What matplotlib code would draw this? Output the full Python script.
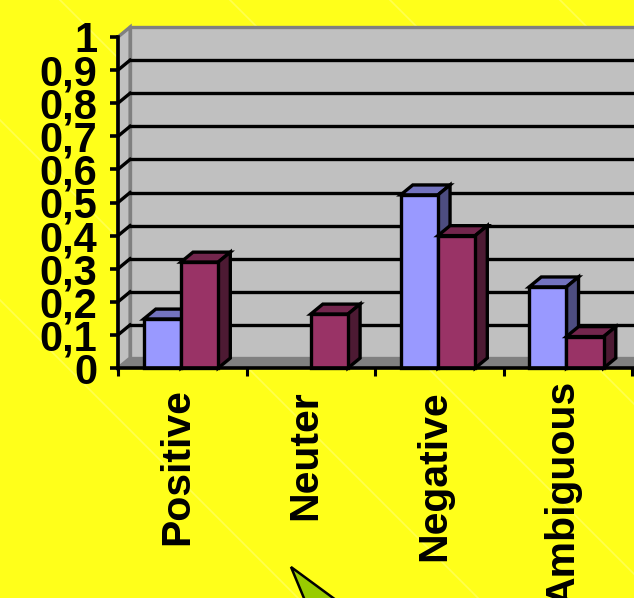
"""Grouped pseudo-3D bar chart of sentiment shares."""

from __future__ import annotations

import matplotlib
matplotlib.use("Agg")
import matplotlib.pyplot as plt
from matplotlib.patches import Polygon

categories = ["Positive", "Neuter", "Negative", "Ambiguous"]
series_blue = [0.148, 0.0, 0.523, 0.245]
series_red = [0.32, 0.163, 0.40, 0.095]
y_ticks = [0, 0.1, 0.2, 0.3, 0.4, 0.5, 0.6, 0.7, 0.8, 0.9, 1]
y_labels = ["0", "0,1", "0,2", "0,3", "0,4", "0,5", "0,6", "0,7", "0,8", "0,9", "1"]

W, H = 634, 598
YELLOW = "#FFFF1A"
BLUE = ("#9999FF", "#7373BF", "#4D4D80")
RED = ("#993366", "#73264D", "#4D1A33")
BAR_W = 0.29
DX, DY = 0.094, 0.03  # depth offset of the 3D box, in data units
XMAX = 516 / 128.5

plt.rcParams["font.family"] = ["Liberation Sans", "DejaVu Sans"]
plt.rcParams["font.weight"] = "bold"


def draw_bar(ax, left, value, colors, z):
    """One bar: front from ax.bar, then the top and side faces."""
    right = left + BAR_W
    ax.bar(left, value, width=BAR_W, align="edge", color=colors[0],
           edgecolor="black", linewidth=2.4, zorder=z + 0.2, clip_on=False)
    top = [(left, value), (left + DX, value + DY), (right + DX, value + DY), (right, value)]
    side = [(right, 0), (right + DX, DY), (right + DX, value + DY), (right, value)]
    for pts, col in ((top, colors[1]), (side, colors[2])):
        ax.add_patch(Polygon(pts, closed=True, facecolor=col, edgecolor="black",
                             linewidth=2.4, zorder=z, clip_on=False))


fig = plt.figure(figsize=(W / 100, H / 100), dpi=100, facecolor=YELLOW)

# faint diagonal streaks in the backdrop
bg = fig.add_axes([0, 0, 1, 1], zorder=0)
bg.set_xlim(0, W)
bg.set_ylim(H, 0)
bg.axis("off")
for start in (-300, -120, 60, 230, 390, 560, 720):
    bg.plot([start, start + 600], [0, 600], color="#FFFF66", lw=1.2, alpha=0.7)

ax = fig.add_axes([118 / W, (H - 368) / H, (W - 118) / W, 331 / H], zorder=1)
ax.patch.set_visible(False)
ax.set_xlim(0, XMAX)
ax.set_ylim(0, 1)
for spine in ("top", "right"):
    ax.spines[spine].set_visible(False)
for spine in ("left", "bottom"):
    ax.spines[spine].set_linewidth(2.6)
    ax.spines[spine].set_zorder(8)

# back wall, side wall and floor
ax.add_patch(Polygon([(DX, DY), (XMAX + 1, DY), (XMAX + 1, 1 + DY), (DX, 1 + DY)],
                     facecolor="#C0C0C0", edgecolor="#808080", linewidth=2.4,
                     zorder=1, clip_on=False))
ax.add_patch(Polygon([(0, 0), (DX, DY), (DX, 1 + DY), (0, 1)],
                     facecolor="#C0C0C0", edgecolor="#808080", linewidth=2.4,
                     zorder=1, clip_on=False))
ax.add_patch(Polygon([(0, 0), (DX, DY), (XMAX + 1, DY), (XMAX + 1, 0)],
                     facecolor="#808080", edgecolor="#808080", linewidth=1,
                     zorder=1.5, clip_on=False))

# gridlines run along the back wall and step down the side wall
for tick in y_ticks[1:-1]:
    ax.plot([DX, XMAX], [tick + DY, tick + DY], color="black", lw=2.4, zorder=2, clip_on=False)
    ax.plot([0, DX], [tick, tick + DY], color="black", lw=2.4, zorder=2, clip_on=False)

for i, (blue, red) in enumerate(zip(series_blue, series_red)):
    if blue > 0:
        draw_bar(ax, i + 0.2, blue, BLUE, 3 + i)
        draw_bar(ax, i + 0.2 + BAR_W, red, RED, 3.5 + i)
    else:
        draw_bar(ax, i + 0.5, red, RED, 3.5 + i)

ax.set_yticks(y_ticks)
ax.set_yticklabels(y_labels, fontsize=30, fontweight="bold", linespacing=1)
ax.tick_params(axis="y", length=6, width=2.6, pad=9)
ax.set_xticks(range(len(categories) + 1))
ax.set_xticklabels([])
ax.tick_params(axis="x", length=6, width=2.2)

# category names sit below the axis, rotated
label_tops = [388, 390, 390, 380]
for i, (name, top_px) in enumerate(zip(categories, label_tops)):
    ax.annotate(name, xy=(i + 0.46, 0), xycoords="data",
                xytext=(0, -(top_px - 368) * 0.72), textcoords="offset points",
                rotation=90, ha="center", va="top", fontsize=29.5,
                fontweight="bold", annotation_clip=False)

# corner of the green arrow entering from the bottom edge
bg.add_patch(Polygon([(291, 567), (340, 603), (306, 603)], closed=True,
                     facecolor="#99CC00", edgecolor="black", linewidth=1.8))

fig.savefig("out.png", dpi=100, facecolor=fig.get_facecolor())
plt.close(fig)
